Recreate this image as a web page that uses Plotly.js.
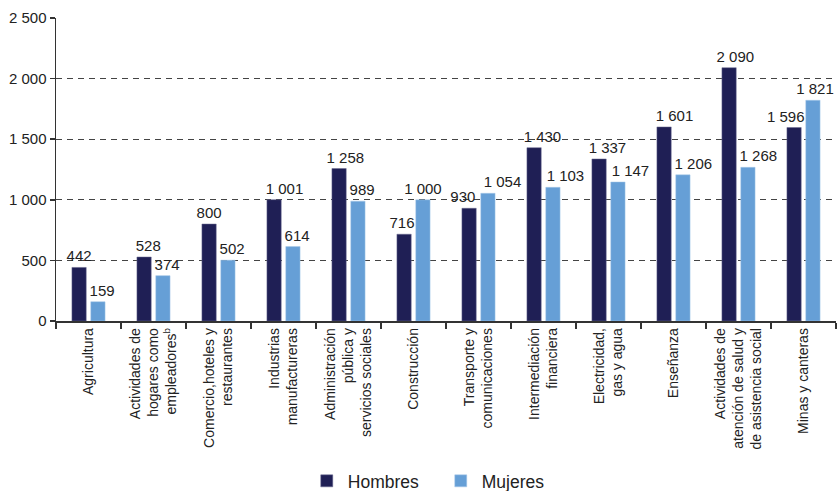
<!DOCTYPE html>
<html><head><meta charset="utf-8">
<script src="https://cdn.plot.ly/plotly-3.0.1.min.js"></script>
<style>body{margin:0;padding:0;background:#fff}#chart{width:838px;height:491px}</style>
</head><body><div id="chart"></div>
<script>
const categories = [
  "Agricultura",
  "Actividades de<br>hogares como<br>empleadores<sup>b</sup>",
  "Comercio,hoteles y<br>restaurantes",
  "Industrias<br>manufactureras",
  "Administración<br>pública y<br>servicios sociales",
  "Construcción",
  "Transporte y<br>comunicaciones",
  "Intermediación<br>financiera",
  "Electricidad,<br>gas y agua",
  "Enseñanza",
  "Actividades de<br>atención de salud y<br>de asistencia social",
  "Minas y canteras"
];
const hombres = [442, 528, 800, 1001, 1258, 716, 930, 1430, 1337, 1601, 2090, 1596];
const mujeres = [159, 374, 502, 614, 989, 1000, 1054, 1103, 1147, 1206, 1268, 1821];
const yTicks = [0, 500, 1000, 1500, 2000, 2500];

// label nudges (in non-breaking-space units; + = right, - = left), styling only
const nudgeH = [0, 2, 0, 5, 3, -1, -3, 4, 4, 5, 3, -4];
const nudgeM = [2, 2, 2, 2, 2, 0, 7, 6, 6, 5, 5, 1];
const NB = "\u00a0";
const tpl = n => n >= 0 ? NB.repeat(n) + "%{y:,}" : "%{y:,}" + NB.repeat(-n);

const font = {family: "Liberation Sans, Arial, sans-serif", size: 15, color: "#222"};
const traces = [
  {type: "bar", name: "Mujeres", x: categories, y: mujeres, legendrank: 2,
   width: 0.22, offset: 0.035,
   marker: {color: "#669fd6", line: {color: "#a9c8e8", width: 0.5}},
   texttemplate: nudgeM.map(tpl), textposition: "outside", cliponaxis: false, constraintext: "none",
   textfont: {family: font.family, size: 15, color: "#222"}, hoverinfo: "skip"},
  {type: "bar", name: "Hombres", x: categories, y: hombres, legendrank: 1,
   width: 0.22, offset: -0.255,
   marker: {color: "#1f1f55", line: {color: "#6a6a90", width: 0.5}},
   texttemplate: nudgeH.map(tpl), textposition: "outside", cliponaxis: false, constraintext: "none",
   textfont: {family: font.family, size: 15, color: "#222"}, hoverinfo: "skip"}
];
const layout = {
  width: 838, height: 491,
  margin: {l: 56, r: 2, t: 18, b: 170, autoexpand: false},
  separators: ", ",
  font: font,
  paper_bgcolor: "#fff", plot_bgcolor: "#fff",
  barmode: "overlay",
  showlegend: true,
  legend: {orientation: "h", x: 0.492, xanchor: "center", y: -0.528, yanchor: "middle",
           font: {family: font.family, size: 17.5, color: "#222"}, itemwidth: 32, entrywidth: 87},
  xaxis: {type: "category", tickangle: -90, showline: true, linecolor: "#333", linewidth: 1.5,
          ticks: "outside", tickson: "boundaries", ticklen: 6, tickcolor: "#333", tickwidth: 1.5,
          showgrid: false, automargin: false,
          tickfont: {family: font.family, size: 14, color: "#222"}},
  yaxis: {range: [0, 2500], tickvals: yTicks, tickformat: ",", showline: true, linecolor: "#333", linewidth: 1.5,
          ticks: "outside", ticklen: 5, tickcolor: "#333", tickwidth: 1.5,
          showgrid: true, gridcolor: "#444", griddash: "6px,5px", gridwidth: 1, zeroline: false,
          automargin: false, tickfont: {family: font.family, size: 15, color: "#222"}}
};
Plotly.newPlot("chart", traces, layout, {displayModeBar: false, staticPlot: true});
</script></body></html>
